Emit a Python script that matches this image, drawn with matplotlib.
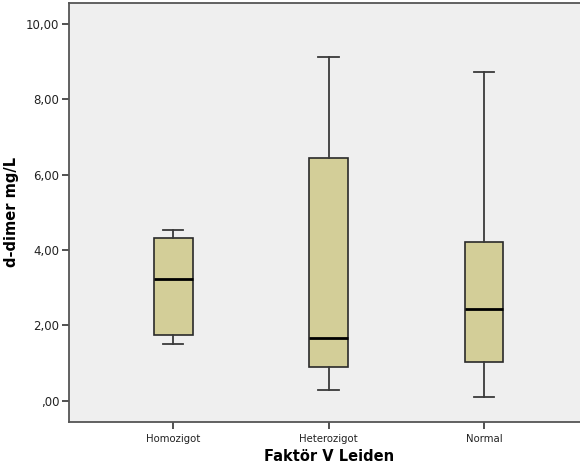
import matplotlib.pyplot as plt
from matplotlib.ticker import FuncFormatter

groups = ['Homozigot', 'Heterozigot', 'Normal']
whislo = [1.51, 0.28, 0.11]
q1 = [1.75, 0.89, 1.04]
med = [3.24, 1.66, 2.43]
q3 = [4.33, 6.45, 4.22]
whishi = [4.54, 9.13, 8.73]

stats = []
for i, g in enumerate(groups):
    stats.append({'label': g, 'whislo': whislo[i], 'q1': q1[i], 'med': med[i],
                  'q3': q3[i], 'whishi': whishi[i], 'fliers': []})

fig = plt.figure(figsize=(5.8, 4.73), dpi=100)
ax = fig.add_axes([0.119, 0.108, 0.895, 0.886])
ax.set_facecolor('#efefef')

ax.bxp(stats, positions=[1, 2, 3], widths=0.25, showfliers=False, patch_artist=True,
       boxprops=dict(facecolor='#d3ce98', edgecolor='#2a2a2a', linewidth=1.2),
       medianprops=dict(color='black', linewidth=2),
       whiskerprops=dict(color='#3a3a3a', linewidth=1.3),
       capprops=dict(color='#3a3a3a', linewidth=1.3),
       capwidths=0.13)

ax.set_xlim(0.33, 3.67)
ax.set_ylim(-0.56, 10.56)
ax.set_yticks([0, 2, 4, 6, 8, 10])
ax.yaxis.set_major_formatter(FuncFormatter(
    lambda v, p: ',00' if v == 0 else ('%.2f' % v).replace('.', ',')))

for s in ax.spines.values():
    s.set_color('#555555')
    s.set_linewidth(1.3)

ax.tick_params(axis='both', colors='#333333', length=5, width=1.2,
               labelcolor='#222222')
ax.tick_params(axis='y', labelsize=8.5, pad=2)
ax.tick_params(axis='x', labelsize=7.3)
ax.set_xlabel('Faktör V Leiden', fontsize=10.5, fontweight='bold', labelpad=4)
ax.set_ylabel('d-dimer mg/L', fontsize=10.5, fontweight='bold', labelpad=5)

fig.savefig('out.png', dpi=100)
